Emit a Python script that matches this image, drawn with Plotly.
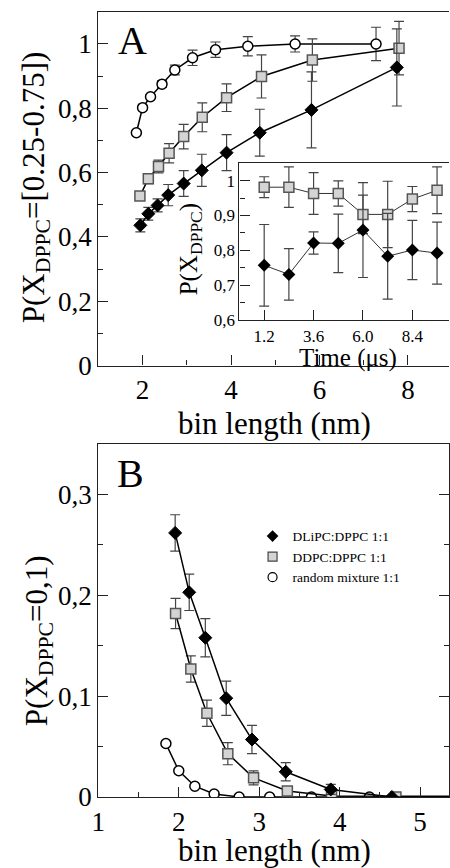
import plotly.graph_objects as go

# ---------------- Panel A (main) ----------------
a_circ_x = [1.86, 2.0, 2.18, 2.44, 2.73, 3.13, 3.65, 4.38, 5.45, 7.28]
a_circ_y = [0.724, 0.802, 0.836, 0.875, 0.919, 0.957, 0.982, 0.993, 1.0, 1.0]
a_circ_e = [0.0, 0.0, 0.005, 0.01, 0.015, 0.024, 0.024, 0.03, 0.025, 0.052]

a_sq_x = [1.94, 2.13, 2.36, 2.6, 2.93, 3.35, 3.9, 4.69, 5.84, 7.8]
a_sq_y = [0.527, 0.581, 0.619, 0.66, 0.712, 0.772, 0.833, 0.899, 0.95, 0.987]
a_sq_e = [0.01, 0.015, 0.02, 0.03, 0.038, 0.045, 0.043, 0.067, 0.066, 0.083]

a_dia_x = [1.95, 2.13, 2.34, 2.58, 2.93, 3.34, 3.9, 4.65, 5.82, 7.75]
a_dia_y = [0.436, 0.472, 0.498, 0.53, 0.566, 0.607, 0.662, 0.724, 0.795, 0.927]
a_dia_e = [0.02, 0.02, 0.02, 0.033, 0.04, 0.05, 0.056, 0.073, 0.118, 0.12]

# ---------------- Panel A (inset) ----------------
time_us = [1.2, 2.4, 3.6, 4.8, 6.0, 7.2, 8.4, 9.6]
ins_sq = [0.981, 0.981, 0.963, 0.963, 0.903, 0.903, 0.947, 0.972]
ins_sq_e = [0.03, 0.058, 0.06, 0.036, 0.055, 0.095, 0.036, 0.067]
ins_dia = [0.757, 0.731, 0.821, 0.82, 0.858, 0.783, 0.801, 0.792]
ins_dia_e = [0.117, 0.074, 0.032, 0.084, 0.136, 0.123, 0.085, 0.089]

# ---------------- Panel B ----------------
b_dia_x = [1.955, 2.13, 2.33, 2.59, 2.91, 3.33, 3.89, 4.65, 5.82, 7.75]
b_dia_y = [0.262, 0.203, 0.158, 0.098, 0.057, 0.025, 0.0075, 0.0, 0.0, 0.0]
b_dia_e = [0.018, 0.018, 0.019, 0.017, 0.014, 0.009, 0.005, 0.0, 0.0, 0.0]

b_sq_x = [1.96, 2.15, 2.35, 2.61, 2.93, 3.35, 3.9, 4.7, 5.84, 7.8]
b_sq_y = [0.182, 0.127, 0.083, 0.043, 0.019, 0.006, 0.001, 0.0, 0.0, 0.0]
b_sq_e = [0.015, 0.013, 0.013, 0.011, 0.007, 0.003, 0.001, 0.0, 0.0, 0.0]

b_circ_x = [1.84, 2.0, 2.2, 2.44, 2.75, 3.13, 3.65, 4.37, 5.45, 7.28]
b_circ_y = [0.053, 0.026, 0.0107, 0.003, 0.0, 0.0, 0.0, 0.0, 0.0, 0.0]

legend_names = ["DLiPC:DPPC 1:1", "DDPC:DPPC 1:1", "random mixture 1:1"]

a_yticks = [0, 0.2, 0.4, 0.6, 0.8, 1.0]
a_yticktext = ["0", "0,2", "0,4", "0,6", "0,8", "1"]
a_xticks = [2, 4, 6, 8]
ins_yticks = [0.6, 0.7, 0.8, 0.9, 1.0]
ins_yticktext = ["0,6", "0,7", "0,8", "0,9", "1"]
ins_xticks = [1.2, 3.6, 6.0, 8.4]
ins_xticktext = ["1.2", "3.6", "6.0", "8.4"]
b_yticks = [0, 0.1, 0.2, 0.3]
b_yticktext = ["0", "0,1", "0,2", "0,3"]
b_xticks = [1, 2, 3, 4, 5]

SERIF = "Liberation Serif, Times New Roman, serif"
W, H = 450, 868
AX = "#222222"
ERR = "#444444"


def px_x(p):
    return p / W


def px_y(p):
    return 1 - p / H


fig = go.Figure()

sq_marker = dict(symbol="square", size=10, color="#d4d4d4", line=dict(color="#555555", width=1.5))
dia_marker = dict(symbol="diamond", size=10, color="black", line=dict(color="black", width=1))
circ_marker = dict(symbol="circle", size=10, color="white", line=dict(color="black", width=1.5))


def err(arr, w=5):
    return dict(type="data", array=arr, visible=True, color=ERR, thickness=1.2, width=w)


# Panel A
fig.add_trace(go.Scatter(x=a_circ_x, y=a_circ_y, mode="lines+markers", marker=circ_marker,
                         line=dict(color="black", width=1.5), error_y=err(a_circ_e),
                         xaxis="x", yaxis="y", showlegend=False))
fig.add_trace(go.Scatter(x=a_sq_x, y=a_sq_y, mode="lines+markers", marker=sq_marker,
                         line=dict(color="black", width=1.5), error_y=err(a_sq_e),
                         xaxis="x", yaxis="y", showlegend=False))
fig.add_trace(go.Scatter(x=a_dia_x, y=a_dia_y, mode="lines+markers", marker=dia_marker,
                         line=dict(color="black", width=1.5), error_y=err(a_dia_e),
                         xaxis="x", yaxis="y", showlegend=False))

# Inset
fig.add_trace(go.Scatter(x=time_us, y=ins_sq, mode="lines+markers", marker=sq_marker,
                         line=dict(color="#333333", width=1), error_y=err(ins_sq_e, 5),
                         xaxis="x2", yaxis="y2", showlegend=False))
fig.add_trace(go.Scatter(x=time_us, y=ins_dia, mode="lines+markers",
                         marker=dict(symbol="diamond", size=10, color="black"),
                         line=dict(color="#333333", width=1), error_y=err(ins_dia_e, 5),
                         xaxis="x2", yaxis="y2", showlegend=False))

# Panel B
fig.add_trace(go.Scatter(x=b_circ_x, y=b_circ_y, mode="lines+markers", marker=circ_marker,
                         line=dict(color="black", width=1.5),
                         xaxis="x3", yaxis="y3", showlegend=False))
fig.add_trace(go.Scatter(x=b_sq_x, y=b_sq_y, mode="lines+markers", marker=sq_marker,
                         line=dict(color="black", width=1.5), error_y=err(b_sq_e),
                         xaxis="x3", yaxis="y3", showlegend=False))
fig.add_trace(go.Scatter(x=b_dia_x, y=b_dia_y, mode="lines+markers", marker=dia_marker,
                         line=dict(color="black", width=1.5), error_y=err(b_dia_e),
                         xaxis="x3", yaxis="y3", showlegend=False))

# Legend entries (marker only)
leg_markers = [
    dict(symbol="diamond", size=9, color="black"),
    dict(symbol="square", size=9, color="#d4d4d4", line=dict(color="#444444", width=1.2)),
    dict(symbol="circle", size=9, color="white", line=dict(color="black", width=1.2)),
]
for name, mk in zip(legend_names, leg_markers):
    fig.add_trace(go.Scatter(x=[None], y=[None], mode="markers", marker=mk, name=name,
                             xaxis="x3", yaxis="y3", showlegend=True))

tickfont_main = dict(family=SERIF, size=27, color="black")
tickfont_ins = dict(family=SERIF, size=17, color="black")

common = dict(showgrid=False, zeroline=False, showline=True, linecolor=AX, linewidth=1.3,
              ticks="inside", tickcolor=AX, tickwidth=1.2, ticklen=10)

fig.update_layout(
    width=W, height=H, autosize=False,
    margin=dict(l=0, r=0, t=0, b=0, pad=0),
    paper_bgcolor="white", plot_bgcolor="white",
    font=dict(family=SERIF, color="black"),
    xaxis=dict(**common, domain=[px_x(93), 1], range=[1, 8.93], anchor="y", mirror=True,
               tickvals=a_xticks, tickfont=tickfont_main,
               minor=dict(dtick=1, ticks="inside", ticklen=5, tickcolor=AX, tickwidth=1.2)),
    yaxis=dict(**common, domain=[px_y(372), px_y(12)], range=[0, 1.1], anchor="x",
               tickvals=a_yticks, ticktext=a_yticktext, tickfont=tickfont_main,
               minor=dict(dtick=0.1, ticks="inside", ticklen=5, tickcolor=AX, tickwidth=1.2)),
    xaxis2=dict(**common, domain=[px_x(236.7), 1], range=[0, 10.18], anchor="y2", mirror=True,
                tickvals=ins_xticks, ticktext=ins_xticktext, tickfont=tickfont_ins),
    yaxis2=dict(**common, domain=[px_y(325.7), px_y(166)], range=[0.6, 1.05], anchor="x2",
                tickvals=ins_yticks, ticktext=ins_yticktext, tickfont=tickfont_ins,
                minor=dict(dtick=0.05, ticks="inside", ticklen=5, tickcolor=AX, tickwidth=1.2)),
    xaxis3=dict(**common, domain=[px_x(93), 1], range=[1, 5.36], anchor="y3", mirror=True,
                tickvals=b_xticks, tickfont=tickfont_main,
                minor=dict(dtick=0.5, ticks="inside", ticklen=5, tickcolor=AX, tickwidth=1.2)),
    yaxis3=dict(**common, domain=[px_y(811), px_y(452)], range=[0, 0.35], anchor="x3",
                mirror="ticks",
                tickvals=b_yticks, ticktext=b_yticktext, tickfont=tickfont_main,
                minor=dict(dtick=0.05, ticks="inside", ticklen=5, tickcolor=AX, tickwidth=1.2)),
    legend=dict(x=px_x(250), y=px_y(530), xanchor="left", yanchor="top",
                bgcolor="rgba(0,0,0,0)", borderwidth=0,
                font=dict(family=SERIF, size=13.5, color="black"),
                tracegroupgap=0, itemsizing="trace"),
)

annots = [
    dict(text="A", x=px_x(128), y=px_y(41), size=40, angle=0),
    dict(text="B", x=px_x(126), y=px_y(482), size=40, angle=0),
    dict(text="bin length (nm)", x=px_x(272), y=px_y(431), size=31, angle=0),
    dict(text="bin length (nm)", x=px_x(272), y=px_y(865), size=31, angle=0),
    dict(text="P(X<sub>DPPC</sub>=[0.25-0.75])", x=px_x(29), y=px_y(190), size=31, angle=-90),
    dict(text="P(X<sub>DPPC</sub>=0,1)", x=px_x(32), y=px_y(652), size=31, angle=-90),
    dict(text="Time (μs)", x=px_x(347), y=px_y(364), size=25, angle=0),
    dict(text="P(X<sub>DPPC</sub>)", x=px_x(187), y=px_y(254), size=25, angle=-90),
]
for a in annots:
    fig.add_annotation(text=a["text"], x=a["x"], y=a["y"], xref="paper", yref="paper",
                       xanchor="center", yanchor="middle", showarrow=False,
                       textangle=a["angle"],
                       font=dict(family=SERIF, size=a["size"], color="black"))

fig.write_html("out.html")
